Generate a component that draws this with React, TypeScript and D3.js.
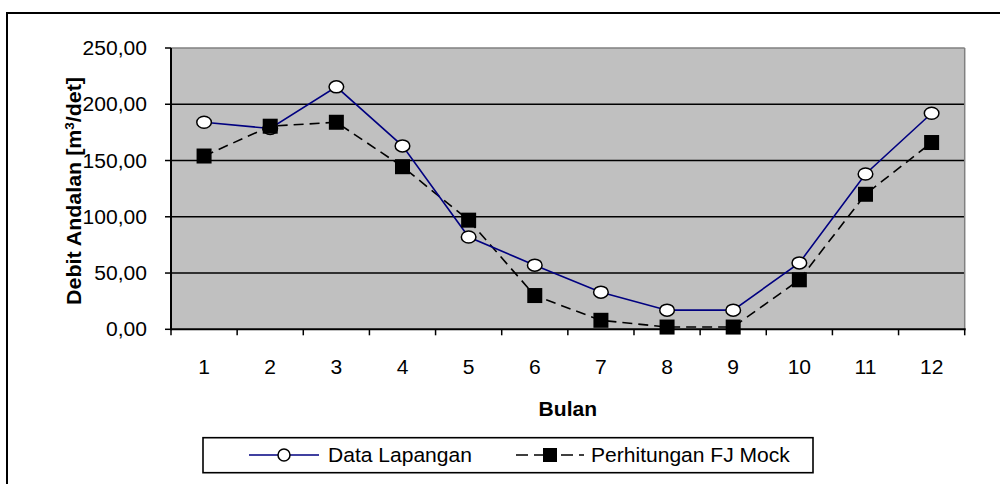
import React from "react";
import * as d3 from "d3";

const months = ["1", "2", "3", "4", "5", "6", "7", "8", "9", "10", "11", "12"];
const dataLapangan = [184, 178.5, 215.5, 163, 82, 57, 33, 17, 17, 59, 138, 192];
const fjMock = [154, 180.5, 184, 144.5, 97, 30, 8, 2, 2, 44, 120, 166];
const yTicks = [0, 50, 100, 150, 200, 250];
const seriesNames = ["Data Lapangan", "Perhitungan FJ Mock"];

const W = 1000;
const H = 484;
const plot = { left: 171, top: 48, right: 964.7, bottom: 329.3 };
const FONT = "Arial, 'Liberation Sans', sans-serif";
const SX = 1.08;
const FS = 19.5;

export default function App() {
  const x = d3.scaleBand<string>().domain(months).range([plot.left, plot.right]);
  const y = d3.scaleLinear().domain([0, 250]).range([plot.bottom, plot.top]);
  const cx = (m: string) => (x(m) as number) + x.bandwidth() / 2;
  const line = d3
    .line<number>()
    .x((_, i) => cx(months[i]))
    .y((d) => y(d));
  const fmt = (v: number) => d3.format(".2f")(v).replace(".", ",");
  const boundaries = d3.range(months.length + 1).map((i) => plot.left + i * x.bandwidth());

  const HText = (props: { x: number; y: number; anchor?: string; bold?: boolean; children: any }) => (
    <g transform={`translate(${props.x},${props.y}) scale(${SX},1)`}>
      <text
        x={0}
        y={0}
        textAnchor={(props.anchor as any) || "start"}
        fontFamily={FONT}
        fontSize={FS}
        fontWeight={props.bold ? "bold" : "normal"}
        fill="#000"
      >
        {props.children}
      </text>
    </g>
  );

  return (
    <svg
      width={W}
      height={H}
      style={{ position: "absolute", left: 0, top: 0, background: "#fff" }}
    >
      <rect x={0} y={0} width={W} height={H} fill="#fff" />
      {/* outer chart border */}
      <rect x={7} y={13} width={W + 20} height={H + 20} fill="none" stroke="#000" strokeWidth={2} />

      {/* plot area */}
      <rect
        x={plot.left}
        y={plot.top}
        width={plot.right - plot.left}
        height={plot.bottom - plot.top}
        fill="#c0c0c0"
      />
      {yTicks
        .filter((t) => t > 0 && t < 250)
        .map((t) => (
          <line key={t} x1={plot.left} x2={plot.right} y1={y(t)} y2={y(t)} stroke="#000" strokeWidth={1.5} />
        ))}
      <line x1={plot.left} x2={plot.right} y1={plot.top} y2={plot.top} stroke="#808080" strokeWidth={1.5} />
      <line x1={plot.right} x2={plot.right} y1={plot.top} y2={plot.bottom} stroke="#808080" strokeWidth={1.5} />
      <line x1={plot.left} x2={plot.left} y1={plot.top} y2={plot.bottom + 1} stroke="#000" strokeWidth={2} />
      <line x1={plot.left} x2={plot.right + 1} y1={plot.bottom} y2={plot.bottom} stroke="#000" strokeWidth={2} />
      {yTicks.map((t) => (
        <g key={t}>
          <line x1={plot.left - 6} x2={plot.left} y1={y(t)} y2={y(t)} stroke="#000" strokeWidth={1.5} />
          <HText x={147} y={y(t) + 7} anchor="end">
            {fmt(t)}
          </HText>
        </g>
      ))}
      {boundaries.map((b, i) => (
        <line key={i} x1={b} x2={b} y1={plot.bottom} y2={plot.bottom + 6} stroke="#000" strokeWidth={1.5} />
      ))}
      {months.map((m) => (
        <HText key={m} x={cx(m)} y={374} anchor="middle">
          {m}
        </HText>
      ))}

      {/* axis titles */}
      <HText x={(plot.left + plot.right) / 2} y={416} anchor="middle" bold>
        Bulan
      </HText>
      <text
        transform={`translate(81,191) rotate(-90)`}
        textAnchor="middle"
        fontFamily={FONT}
        fontSize={20}
        fontWeight="bold"
        textLength={228}
        lengthAdjust="spacingAndGlyphs"
      >
        Debit Andalan [m
        <tspan fontSize={12.5} dy={-7.5}>
          3
        </tspan>
        <tspan dy={7.5}>/det]</tspan>
      </text>

      {/* series */}
      <path d={line(fjMock) || ""} fill="none" stroke="#000" strokeWidth={1.6} strokeDasharray="10,6" />
      <path d={line(dataLapangan) || ""} fill="none" stroke="#000080" strokeWidth={1.6} />
      {dataLapangan.map((v, i) => (
        <ellipse
          key={"c" + i}
          cx={cx(months[i])}
          cy={y(v)}
          rx={7.3}
          ry={6}
          fill="#fff"
          stroke="#000"
          strokeWidth={1.5}
        />
      ))}
      {fjMock.map((v, i) => (
        <rect key={"s" + i} x={cx(months[i]) - 7.5} y={y(v) - 7.5} width={15} height={15} fill="#000" />
      ))}

      {/* legend */}
      <rect x={203} y={437.7} width={610} height={35} fill="#fff" stroke="#000" strokeWidth={1.6} />
      <line x1={249} x2={319} y1={455} y2={455} stroke="#000080" strokeWidth={1.6} />
      <ellipse cx={284} cy={455} rx={6} ry={6} fill="#fff" stroke="#000" strokeWidth={1.5} />
      <HText x={328} y={462}>{seriesNames[0]}</HText>
      <line x1={516} x2={584} y1={455} y2={455} stroke="#000" strokeWidth={1.6} strokeDasharray="12,6,12,6,3,6" />
      <rect x={543} y={448} width={14} height={14} fill="#000" />
      <HText x={591} y={462}>{seriesNames[1]}</HText>
    </svg>
  );
}
